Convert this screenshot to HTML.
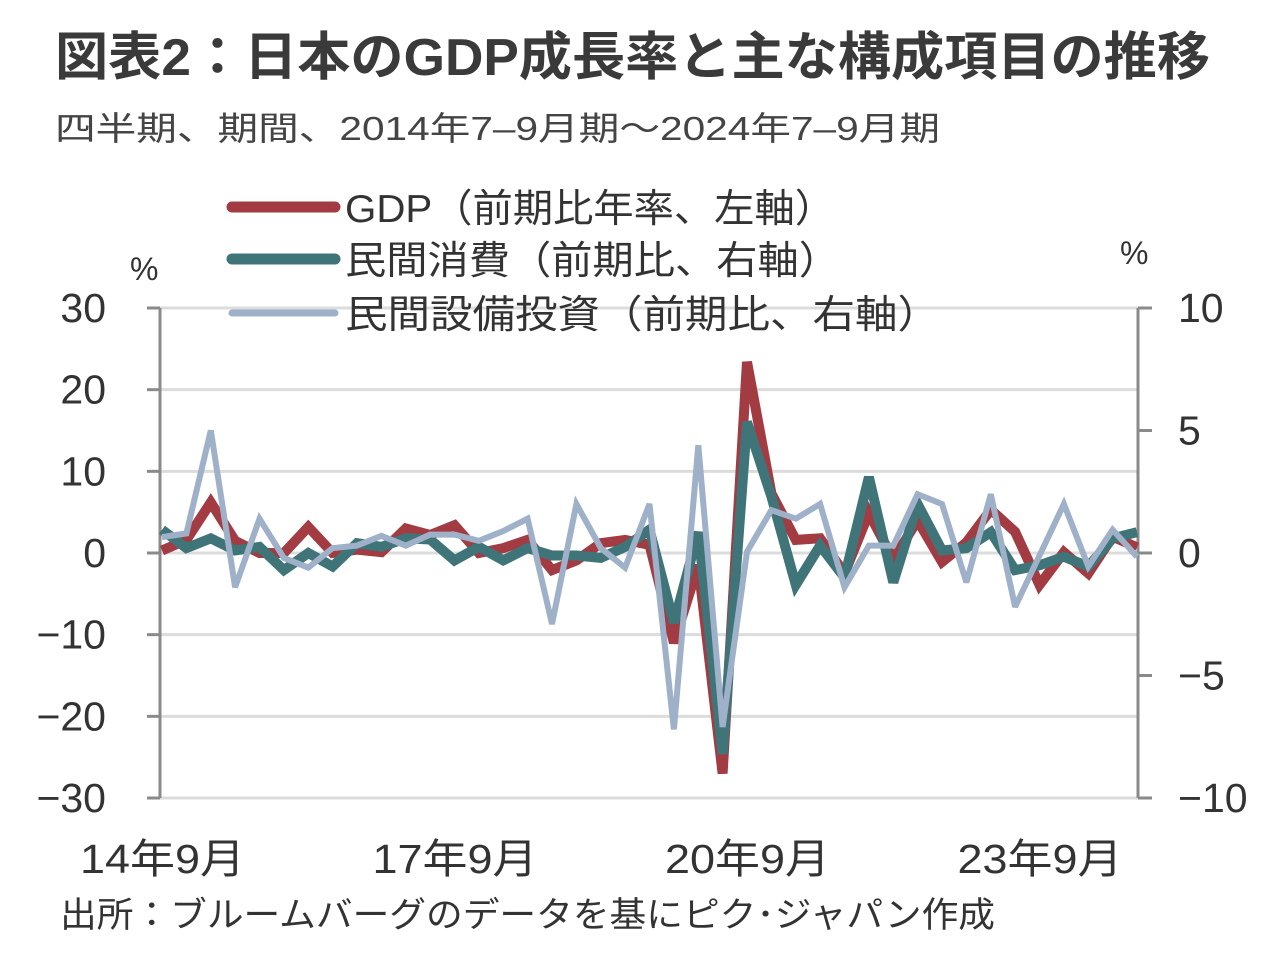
<!DOCTYPE html>
<html><head><meta charset="utf-8"><style>
body{margin:0;background:#fff;width:1280px;height:953px;overflow:hidden;font-family:"Liberation Sans","Noto Sans CJK JP",sans-serif;color:#333}
</style></head><body>
<svg width="1280" height="953" xmlns="http://www.w3.org/2000/svg" style="font-family:'Liberation Sans','Noto Sans CJK JP',sans-serif">
<text x="55" y="75" font-size="52" font-weight="bold" fill="#3a3a3a" textLength="1155" lengthAdjust="spacingAndGlyphs">図表2：日本のGDP成長率と主な構成項目の推移</text>
<text x="55" y="140" font-size="33" fill="#444" textLength="885" lengthAdjust="spacingAndGlyphs">四半期、期間、2014年7–9月期～2024年7–9月期</text>
<g id="grid"></g>
<g id="axes"></g>
<g id="series"></g>
<g>
<line x1="232" y1="207" x2="335" y2="207" stroke="#a23b42" stroke-width="11" stroke-linecap="round"/>
<text x="345" y="222" font-size="39" fill="#333" textLength="490" lengthAdjust="spacingAndGlyphs">GDP（前期比年率、左軸）</text>
<line x1="232" y1="259" x2="335" y2="259" stroke="#3f7479" stroke-width="11" stroke-linecap="round"/>
<text x="345" y="274" font-size="39" fill="#333" textLength="495" lengthAdjust="spacingAndGlyphs">民間消費（前期比、右軸）</text>
<line x1="232" y1="313" x2="335" y2="313" stroke="#9fb1c8" stroke-width="7" stroke-linecap="round"/>
<text x="345" y="328" font-size="39" fill="#333" textLength="595" lengthAdjust="spacingAndGlyphs">民間設備投資（前期比、右軸）</text>
</g>
<text x="130" y="280" font-size="32" fill="#333">%</text>
<text x="1120" y="264" font-size="32" fill="#333">%</text>
<text x="60" y="927" font-size="35" fill="#333" textLength="935" lengthAdjust="spacingAndGlyphs">出所：ブルームバーグのデータを基にピク･ジャパン作成</text>
</svg>
<script>
const leftTicks=[30,20,10,0,-10,-20,-30];
const leftTickLabels=["30","20","10","0","−10","−20","−30"];
const rightTicks=[10,5,0,-5,-10];
const rightTickLabels=["10","5","0","−5","−10"];
const xLabelIdx=[0,12,24,36];
const xLabels=["14年9月","17年9月","20年9月","23年9月"];
const gdp=[0.3,1.6,6.2,1.5,0,0,3.2,0,0.4,0.1,3.0,2.2,3.4,0,0.6,1.6,-2.1,-0.9,1.2,1.6,1.0,-11,-1.5,-27,23.4,7.3,1.6,1.8,-2.5,4.9,-0.8,4.0,-1.1,1.3,5.3,2.6,-3.9,0.1,-2.5,2.0,0.7];
const consumption=[0.95,0.2,0.6,0.1,0.25,-0.7,0,-0.55,0.4,0.25,0.6,0.55,-0.3,0.25,-0.3,0.2,-0.1,-0.1,-0.2,0.25,0.95,-2.85,0.85,-8.2,5.35,2.3,-1.3,0.3,-1.0,3.1,-1.2,2.0,0.1,0.2,0.85,-0.7,-0.5,-0.15,-0.55,0.6,0.85];
const capex=[0.65,0.8,5.0,-1.4,1.4,-0.2,-0.6,0.2,0.3,0.7,0.3,0.75,0.75,0.5,0.9,1.4,-2.9,2.0,0.2,-0.6,2.0,-7.2,4.4,-7.1,0.05,1.75,1.4,2.0,-1.4,0.3,0.3,2.4,2.0,-1.2,2.4,-2.2,-0.1,2.0,-0.55,0.95,-0.15];

const NS="http://www.w3.org/2000/svg";
const X0=162,X1=1137,YT=308,YB=798,LX=160,RX=1138;
const xS=i=>X0+(X1-X0)*i/(gdp.length-1);
const yL=v=>YT+(30-v)*(YB-YT)/60;
const yR=v=>YT+(10-v)*(YB-YT)/20;
function mk(tag,attrs,parent){const e=document.createElementNS(NS,tag);for(const k in attrs)e.setAttribute(k,attrs[k]);parent.appendChild(e);return e;}
const grid=document.getElementById('grid'),axes=document.getElementById('axes'),series=document.getElementById('series');
leftTicks.forEach((v,i)=>{
  const y=yL(v);
  const g=mk('line',{x1:LX,x2:RX,y1:y,y2:y,stroke:'#dcdcdc','stroke-width':3},grid);
  
  
  const t=mk('line',{x1:LX-13,x2:LX,y1:y,y2:y,stroke:'#8a8a8a','stroke-width':3},axes);
  
  
  const tx=mk('text',{x:106,y:y+14,'font-size':41,'text-anchor':'end',fill:'#333'},axes);
  tx.textContent=leftTickLabels[i];
  
  
});
rightTicks.forEach((v,i)=>{
  const y=yR(v);
  const t=mk('line',{x1:RX,x2:RX+14,y1:y,y2:y,stroke:'#8a8a8a','stroke-width':3},axes);
  
  
  const tx=mk('text',{x:1178,y:y+14,'font-size':41,fill:'#333'},axes);
  tx.textContent=rightTickLabels[i];
  
  
});
const la=mk('line',{x1:LX,x2:LX,y1:YT,y2:YB,stroke:'#8a8a8a','stroke-width':3},axes);


const ra=mk('line',{x1:RX,x2:RX,y1:YT,y2:YB,stroke:'#8a8a8a','stroke-width':3},axes);


xLabelIdx.forEach((idx,i)=>{
  const tx=mk('text',{x:xS(idx)-82,y:873,'font-size':41,fill:'#333',textLength:165,lengthAdjust:'spacingAndGlyphs'},axes);
  tx.textContent=xLabels[i];
  
  
});
function line(arr,yf,color,w,name){
  const d=arr.map((v,i)=>(i?'L':'M')+xS(i).toFixed(1)+','+yf(v).toFixed(1)).join('');
  const p=mk('path',{d:d,fill:'none',stroke:color,'stroke-width':w,'stroke-linejoin':'miter','stroke-miterlimit':3},series);
  
  
}
line(gdp,yL,'#a23b42',10,'gdp-line');
line(consumption,yR,'#3f7479',10,'consumption-line');
line(capex,yR,'#9fb1c8',6,'capex-line');
</script>
</body></html>
